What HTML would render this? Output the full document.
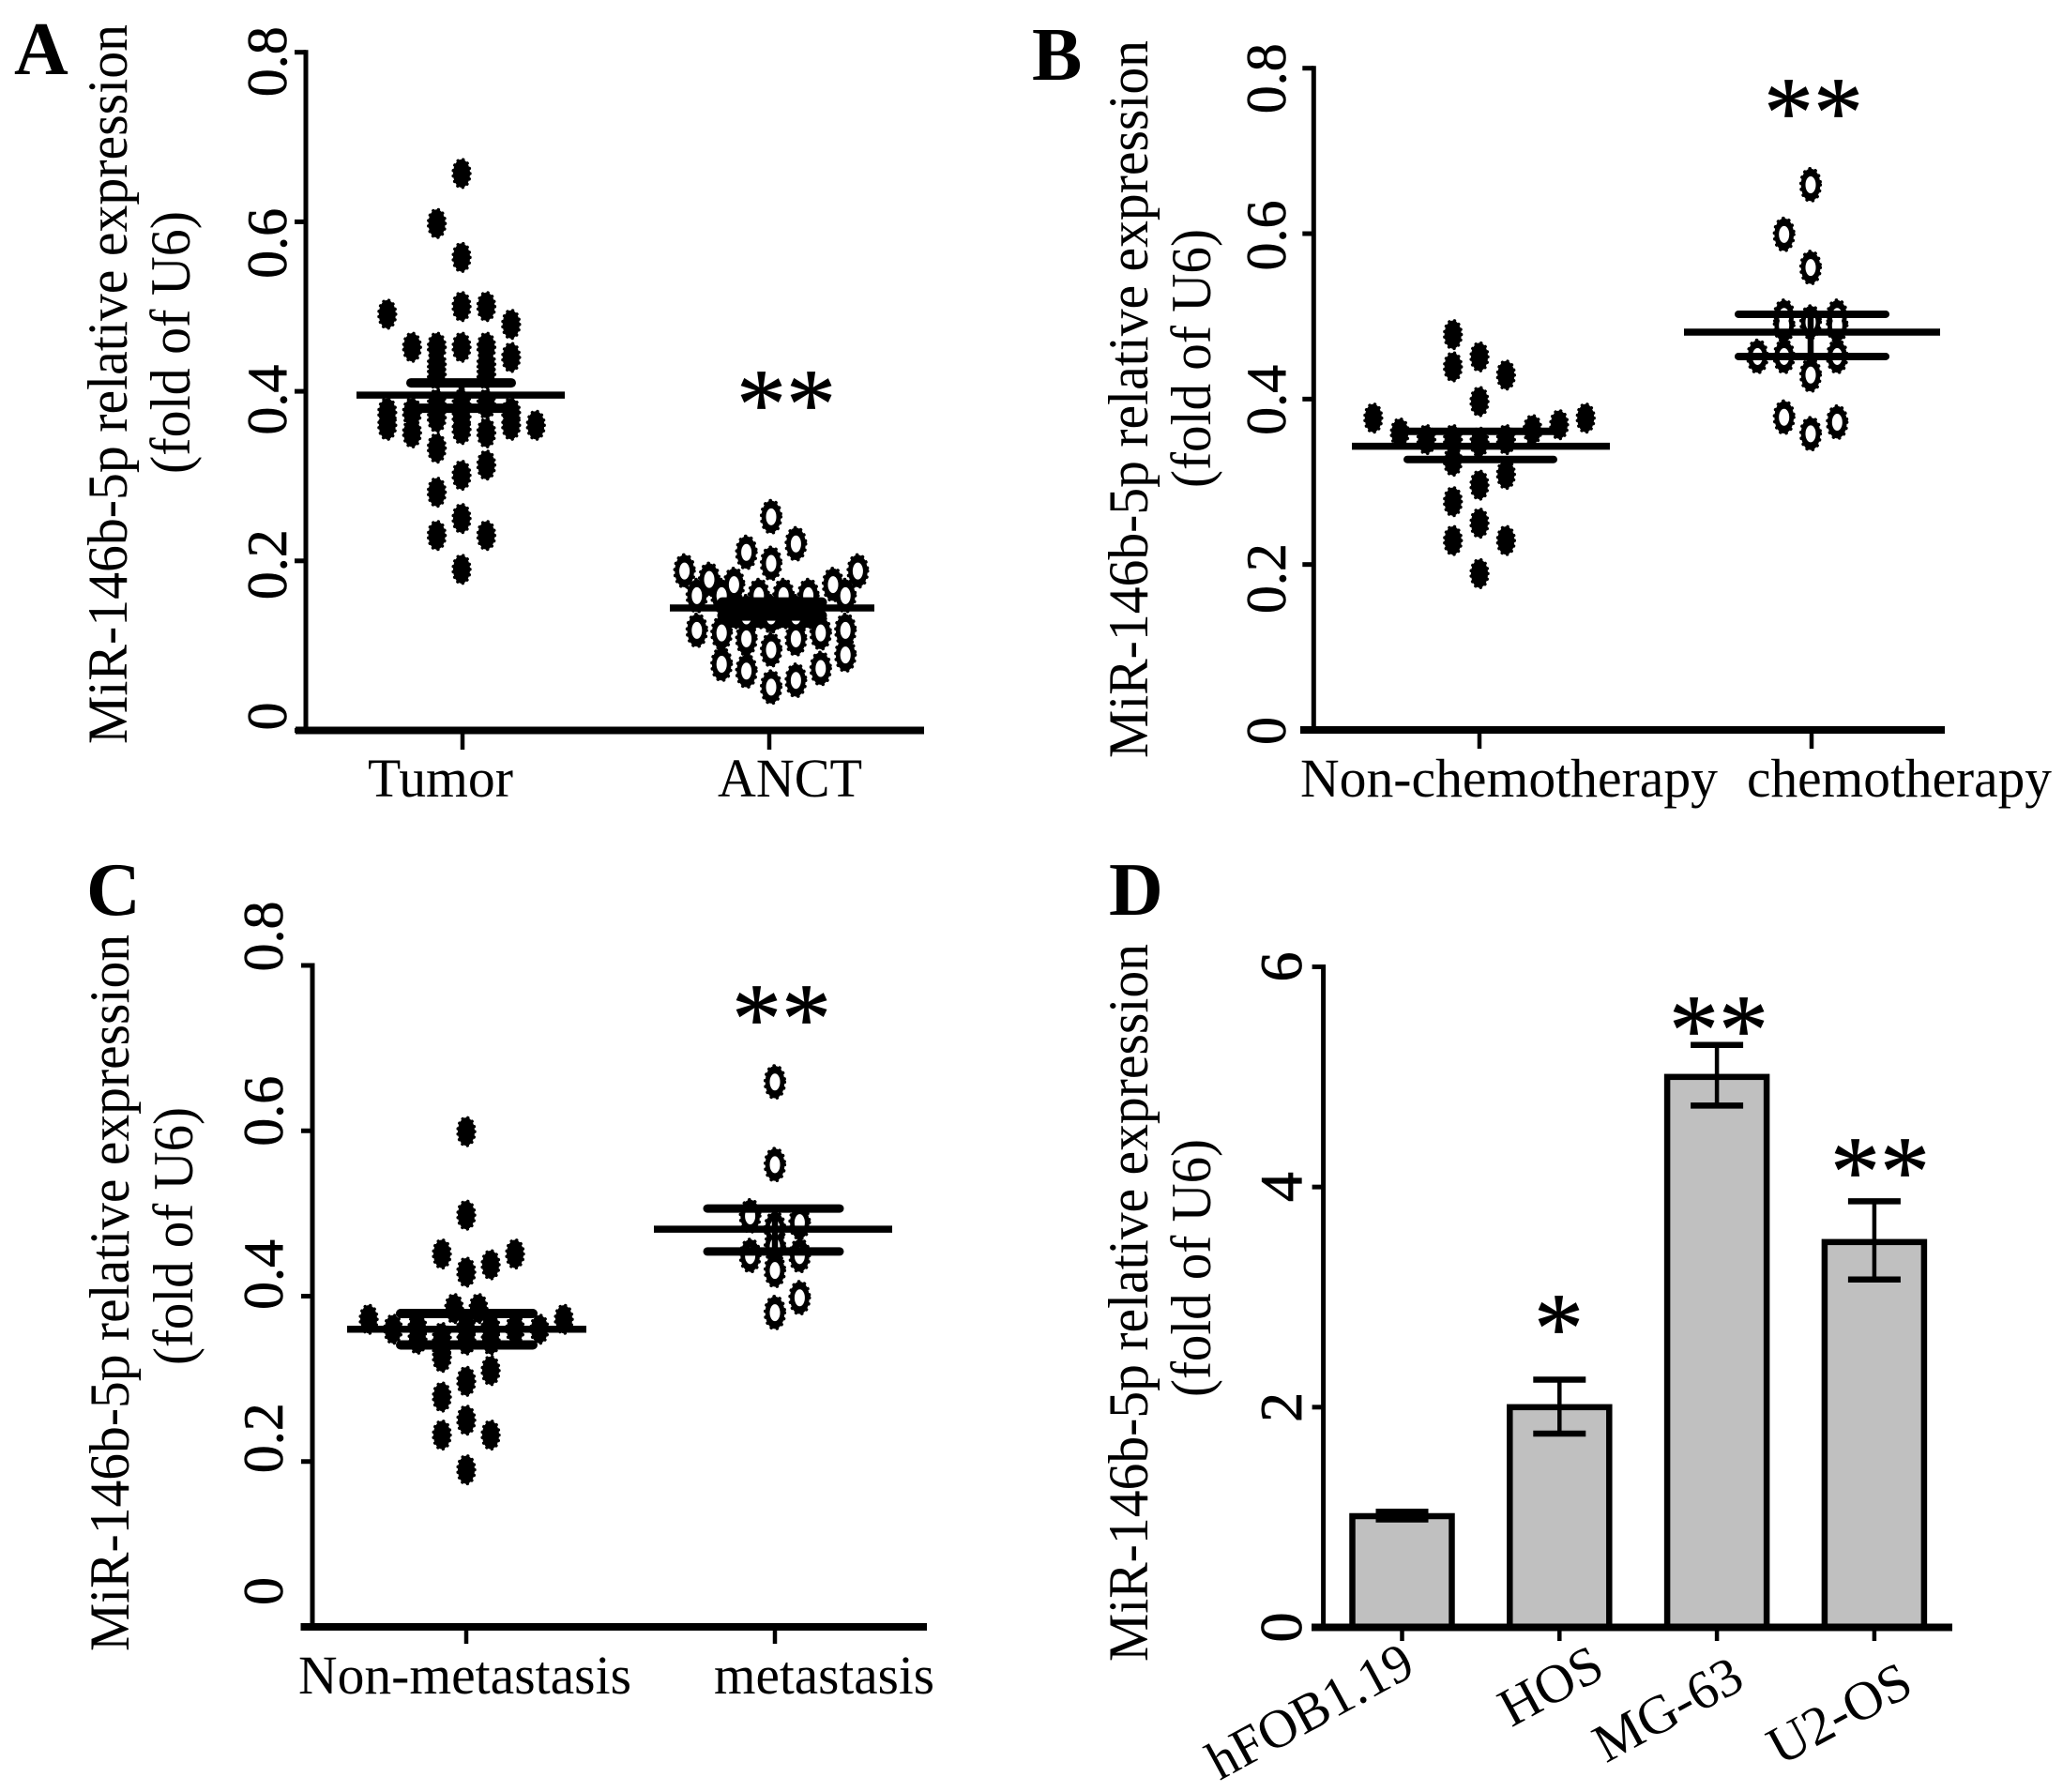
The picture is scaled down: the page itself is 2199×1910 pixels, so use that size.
<!DOCTYPE html>
<html lang="en">
<head>
<meta charset="utf-8">
<title>MiR-146b-5p relative expression</title>
<style>
html,body{margin:0;padding:0;background:#fff;}
svg{display:block;}
text{font-family:"Liberation Serif",serif;fill:#000;}
.ylab{font-size:60px;}
.xlab{font-size:58px;}
.letter{font-size:80px;font-weight:bold;}
.star{font-size:106px;stroke:#000;stroke-width:0.8px;}
</style>
</head>
<body>
<svg id="chart" xmlns="http://www.w3.org/2000/svg" width="2199" height="1910" viewBox="0 0 2199 1910">
<rect x="0" y="0" width="2199" height="1910" fill="#fff"/>
<g id="panelA">
<text class="letter" x="15" y="79">A</text>
<text class="ylab" transform="translate(135 793) rotate(-90)" textLength="767" lengthAdjust="spacingAndGlyphs">MiR-146b-5p relative expression</text>
<text class="ylab" transform="translate(202 505) rotate(-90)" textLength="280" lengthAdjust="spacingAndGlyphs">(fold of U6)</text>
<text class="xlab" x="392" y="849" textLength="155" lengthAdjust="spacingAndGlyphs">Tumor</text>
<text class="xlab" x="765" y="849" textLength="154" lengthAdjust="spacingAndGlyphs">ANCT</text>
</g>
<g id="panelB">
<text class="letter" x="1100" y="85">B</text>
<text class="ylab" transform="translate(1223 808) rotate(-90)" textLength="765" lengthAdjust="spacingAndGlyphs">MiR-146b-5p relative expression</text>
<text class="ylab" transform="translate(1290 520) rotate(-90)" textLength="276" lengthAdjust="spacingAndGlyphs">(fold of U6)</text>
<text class="xlab" x="1386" y="849" textLength="445" lengthAdjust="spacingAndGlyphs">Non-chemotherapy</text>
<text class="xlab" x="1862" y="849" textLength="325" lengthAdjust="spacingAndGlyphs">chemotherapy</text>
</g>
<g id="panelC">
<text class="letter" x="92" y="975">C</text>
<text class="ylab" transform="translate(137 1760) rotate(-90)" textLength="764" lengthAdjust="spacingAndGlyphs">MiR-146b-5p relative expression</text>
<text class="ylab" transform="translate(205 1455) rotate(-90)" textLength="275" lengthAdjust="spacingAndGlyphs">(fold of U6)</text>
<text class="xlab" x="318" y="1805" textLength="355" lengthAdjust="spacingAndGlyphs">Non-metastasis</text>
<text class="xlab" x="761" y="1805" textLength="235" lengthAdjust="spacingAndGlyphs">metastasis</text>
</g>
<g id="panelD">
<text class="letter" x="1182" y="975">D</text>
<text class="ylab" transform="translate(1223 1771) rotate(-90)" textLength="765" lengthAdjust="spacingAndGlyphs">MiR-146b-5p relative expression</text>
<text class="ylab" transform="translate(1290 1489) rotate(-90)" textLength="275" lengthAdjust="spacingAndGlyphs">(fold of U6)</text>
</g>
</svg>
<script>
// ---------- Panel A data ----------
const tumorValues = [0.657,0.558,0.50,0.452,0.385,0.37,0.355,0.301,0.25,0.19,
  0.598,0.452,0.432,0.42,0.385,0.369,0.333,0.281,0.23,
  0.50,0.452,0.432,0.42,0.385,0.351,0.313,0.23,
  0.452,0.375,0.351,
  0.479,0.44,0.375,0.36,
  0.491,0.375,0.36,
  0.36];
const tumorSlots = [0,0,0,0,0,0,0,0,0,0,
  -1,-1,-1,-1,-1,-1,-1,-1,-1,
  1,1,1,1,1,1,1,1,
  -2,-2,-2,
  2,2,2,2,
  -3,-3,-3,
  3];
const tumorSummary = [0.3955,0.38,0.41];
const anctValues = [0.252,0.22,0.21,0.197,0.188,0.178,0.172,0.188,0.172,
  0.159,0.159,0.159,0.159,0.159,0.159,
  0.118,0.115,0.108,0.095,0.108,0.115,0.118,
  0.089,0.078,0.07,0.051,0.059,0.073,
  0.14,0.14,0.14,0.14,0.14,0.14,0.14,0.135,0.135,0.135];
const anctSlots = [0,1,-1,0,-3.5,-2.5,-1.5,3.5,2.5,
  -3,-0.5,0.5,1.5,3,-2,
  -3,-2,-1,0,1,2,3,
  3,-2,-1,0,1,2,
  -1.5,-1,-0.5,0,0.5,1,1.5,-1,0,1];
const anctSummary = [0.1445,0.1355,0.151];
const panelATicks = [0,0.2,0.4,0.6,0.8];
const panelATickLabels = ['0','0.2','0.4','0.6','0.8'];

// ---------- Panel B data ----------
const nonChemoValues = [0.478,0.439,0.351,0.325,0.276,0.229,
  0.451,0.397,0.348,0.296,0.25,0.189,
  0.429,0.351,0.309,0.229,
  0.377,0.377,0.369,0.363,0.359,0.351];
const nonChemoSlots = [-1,-1,-1,-1,-1,-1,
  0,0,0,0,0,0,
  1,1,1,1,
  -4,4,3,2,-3,-2];
const nonChemoSummary = [0.343,0.327,0.361];
const chemoValues = [0.659,0.559,0.493,0.429,0.358,
  0.599,0.5,0.489,0.4515,0.378,
  0.5,0.489,0.4515,0.372,
  0.4515];
const chemoSlots = [0,0,0,0,0,
  -1,-1,-1,-1,-1,
  1,1,1,1,
  -2];
const chemoSummary = [0.481,0.4515,0.5025];
const panelBTicks = [0,0.2,0.4,0.6,0.8];
const panelBTickLabels = ['0','0.2','0.4','0.6','0.8'];

// ---------- Panel C data ----------
const nonMetValues = [0.599,0.498,0.451,0.451,0.429,0.438,0.372,0.372,0.385,0.385,
  0.36,0.348,0.362,0.35,0.337,0.362,0.347,0.362,0.347,0.36,0.36,
  0.326,0.31,0.297,0.278,0.25,0.232,0.232,0.19];
const nonMetSlots = [0,0,-1,2,0,1,-4,4,-0.5,0.5,
  -3,-2,-2,-1,-1,0,0,1,1,2,3,
  -1,1,0,-1,0,-1,1,0];
const nonMetSummary = [0.36,0.341,0.379];
const metValues = [0.659,0.559,0.497,0.489,0.482,0.46,0.449,0.449,0.431,0.398,0.38];
const metSlots = [0,0,-1,1,0,0,-1,1,0,1,0];
const metSummary = [0.481,0.454,0.506];
const panelCTicks = [0,0.2,0.4,0.6,0.8];
const panelCTickLabels = ['0','0.2','0.4','0.6','0.8'];

// ---------- Panel D data ----------
const cellLines = ['hFOB1.19','HOS','MG-63','U2-OS'];
const cellMeans = [1.01,2.0,5.0,3.5];
const cellLower = [0.98,1.76,4.74,3.16];
const cellUpper = [1.05,2.25,5.29,3.87];
const cellStars = ['','*','**','**'];
const panelDTicks = [0,2,4,6];
const panelDTickLabels = ['0','2','4','6'];

// ---------- Layout (not data) ----------
const NS = 'http://www.w3.org/2000/svg';
function make(tag, parent, props) {
  const el = document.createElementNS(NS, tag);
  for (const k in props) el.setAttribute(k, props[k]);
  parent.appendChild(el);
  return el;
}
function linear(v0, v1, p0, p1) {
  return function (v) { return p0 + (v - v0) * (p1 - p0) / (v1 - v0); };
}

function drawAxes(panel, a, ticks, labels, y) {
  const yAxis = make('line', panel, {x1:a.x, x2:a.x, y1:a.top-2.5, y2:a.bottom, stroke:'#000', 'stroke-width':5});
  
  
  const xAxis = make('line', panel, {x1:a.xStart, x2:a.xEnd, y1:a.bottom, y2:a.bottom, stroke:'#000', 'stroke-width':8});
  
  
  ticks.forEach(function (t, i) {
    const py = y(t);
    const tick = make('line', panel, {x1:a.x-12, x2:a.x, y1:py, y2:py, stroke:'#000', 'stroke-width':5});
    
    
    const label = make('text', panel, {
      transform:'translate(' + a.labelX + ' ' + (py + a.nudge[i]) + ') rotate(-90)',
      'text-anchor':'middle', 'font-size':a.labelSize, stroke:'#000', 'stroke-width':a.labelWeight
    });
    
    
    label.textContent = labels[i];
  });
}

function xTick(panel, x, a) {
  const tick = make('line', panel, {x1:x, x2:x, y1:a.bottom, y2:a.tickEnd, stroke:'#000', 'stroke-width':4.5});
  
  
}

function drawPoints(panel, values, slots, cx, spacing, y, hollow) {
  values.forEach(function (v, i) {
    const g = make('g', panel, {transform:'translate(' + (cx + slots[i] * spacing) + ' ' + y(v) + ')'});
    
    
    if (hollow) {
      make('ellipse', g, {rx:10.3, ry:17.3, fill:'#000', stroke:'#000', 'stroke-width':3.6, 'stroke-dasharray':'0.1 6.4', 'stroke-linecap':'round'});
    } else {
      make('ellipse', g, {rx:9, ry:15, fill:'#000', stroke:'#000', 'stroke-width':3.4, 'stroke-dasharray':'0.1 5.8', 'stroke-linecap':'round'});
    }
  });
  if (hollow) {
    values.forEach(function (v, i) {
      const hole = make('ellipse', panel, {cx:cx + slots[i] * spacing, cy:y(v), rx:5.5, ry:9, fill:'#fff'});
      
      
    });
  }
}

function drawSummary(panel, summary, s, y) {
  const mean = make('line', panel, {x1:s.meanL, x2:s.meanR, y1:y(summary[0]), y2:y(summary[0]), stroke:'#000', 'stroke-width':7.5});
  
  
  const stem = make('line', panel, {x1:s.cx, x2:s.cx, y1:y(summary[1]), y2:y(summary[2]), stroke:'#000', 'stroke-width':6.5});
  
  
  const lo = make('line', panel, {x1:s.capL, x2:s.capR, y1:y(summary[1]), y2:y(summary[1]), stroke:'#000', 'stroke-width':s.capW, 'stroke-linecap':'round'});
  
  
  const hi = make('line', panel, {x1:s.capL, x2:s.capR, y1:y(summary[2]), y2:y(summary[2]), stroke:'#000', 'stroke-width':s.capW, 'stroke-linecap':'round'});
  
  
}

function stars(panel, text, x, baseline) {
  const t = make('text', panel, {x:x, y:baseline, class:'star'});
  
  
  t.textContent = text;
}

// ----- Panel A -----
(function () {
  const p = document.getElementById('panelA');
  const a = {x:326, top:55.7, bottom:778.5, xStart:315, xEnd:985, tickEnd:799, labelX:305, labelSize:60, labelWeight:0.6, nudge:[-15,4,9,23,10]};
  const y = linear(0, 0.8, a.bottom, a.top);
  xTick(p, 493, a); xTick(p, 820, a);
  drawAxes(p, a, panelATicks, panelATickLabels, y);
  drawPoints(p, tumorValues, tumorSlots, 492, 26.4, y, false);
  drawSummary(p, tumorSummary, {meanL:380, meanR:602, capL:438, capR:545, cx:492, capW:10}, y);
  drawPoints(p, anctValues, anctSlots, 822, 26.4, y, true);
  drawSummary(p, anctSummary, {meanL:714, meanR:932, capL:770, capR:876, cx:822, capW:11}, y);
  stars(p, '**', 785, 466);
})();

// ----- Panel B -----
(function () {
  const p = document.getElementById('panelB');
  const a = {x:1400.3, top:72.7, bottom:778, xStart:1386, xEnd:2073, tickEnd:798, labelX:1370, labelSize:60, labelWeight:0.6, nudge:[1,15,1,2,11]};
  const y = linear(0, 0.8, a.bottom, a.top);
  xTick(p, 1577, a); xTick(p, 1931, a);
  drawAxes(p, a, panelBTicks, panelBTickLabels, y);
  drawPoints(p, nonChemoValues, nonChemoSlots, 1577, 28.3, y, false);
  drawSummary(p, nonChemoSummary, {meanL:1441, meanR:1716, capL:1500, capR:1656, cx:1577, capW:8}, y);
  drawPoints(p, chemoValues, chemoSlots, 1930, 28.3, y, true);
  drawSummary(p, chemoSummary, {meanL:1795, meanR:2068, capL:1853, capR:2010, cx:1930, capW:8}, y);
  stars(p, '**', 1880, 155);
})();

// ----- Panel C -----
(function () {
  const p = document.getElementById('panelC');
  const a = {x:333, top:1029, bottom:1734, xStart:320.5, xEnd:988, tickEnd:1752, labelX:301, labelSize:60, labelWeight:0.6, nudge:[-38,-25,-23,-21,-31]};
  const y = linear(0, 0.8, a.bottom, a.top);
  xTick(p, 497, a); xTick(p, 826, a);
  drawAxes(p, a, panelCTicks, panelCTickLabels, y);
  drawPoints(p, nonMetValues, nonMetSlots, 497, 26, y, false);
  drawSummary(p, nonMetSummary, {meanL:370, meanR:625, capL:427, capR:568, cx:497, capW:10}, y);
  drawPoints(p, metValues, metSlots, 826, 26.4, y, true);
  drawSummary(p, metSummary, {meanL:697, meanR:951, capL:754, capR:895, cx:826, capW:9}, y);
  stars(p, '**', 780, 1121);
})();

// ----- Panel D -----
(function () {
  const p = document.getElementById('panelD');
  const a = {x:1410.6, top:1030.5, bottom:1734.5, xStart:1398, xEnd:2081, tickEnd:1749, labelX:1387, labelSize:64, labelWeight:0.8, nudge:[0,0,0,0]};
  const y = linear(0, 6, a.bottom, a.top);
  const bx = function (i) { return 1494.5 + i * 167.8; };
  const xLabelStart = [[1300,1898],null,null,null];
  const xLabelEnds = [null,[1713,1786],[1862,1798],[2042,1804]];
  const xStarsLeft = [0,1635,1779,1951];
  const xStarsBase = [0,1451,1133,1284];
  cellLines.forEach(function (name, i) {
    xTick(p, bx(i), a);
    const bar = make('rect', p, {x:bx(i)-53, y:y(cellMeans[i]), width:106, height:a.bottom-y(cellMeans[i]), fill:'#c0c0c0', stroke:'#000', 'stroke-width':6.5});
    
    
    const stem = make('line', p, {x1:bx(i), x2:bx(i), y1:y(cellLower[i]), y2:y(cellUpper[i]), stroke:'#000', 'stroke-width':4.5});
    
    
    const lo = make('line', p, {x1:bx(i)-28, x2:bx(i)+28, y1:y(cellLower[i]), y2:y(cellLower[i]), stroke:'#000', 'stroke-width':6.5});
    
    
    const hi = make('line', p, {x1:bx(i)-28, x2:bx(i)+28, y1:y(cellUpper[i]), y2:y(cellUpper[i]), stroke:'#000', 'stroke-width':6.5});
    
    
    let lab;
    if (xLabelStart[i]) {
      lab = make('text', p, {transform:'translate(' + xLabelStart[i][0] + ' ' + xLabelStart[i][1] + ') rotate(-28.5)', class:'xlab', textLength:240, lengthAdjust:'spacingAndGlyphs'});
    } else {
      lab = make('text', p, {transform:'translate(' + xLabelEnds[i][0] + ' ' + xLabelEnds[i][1] + ') rotate(-28.5)', 'text-anchor':'end', class:'xlab'});
    }
    
    
    lab.textContent = name;
    if (cellStars[i]) stars(p, cellStars[i], xStarsLeft[i], xStarsBase[i]);
  });
  drawAxes(p, a, panelDTicks, panelDTickLabels, y);
})();
</script>
</body>
</html>
